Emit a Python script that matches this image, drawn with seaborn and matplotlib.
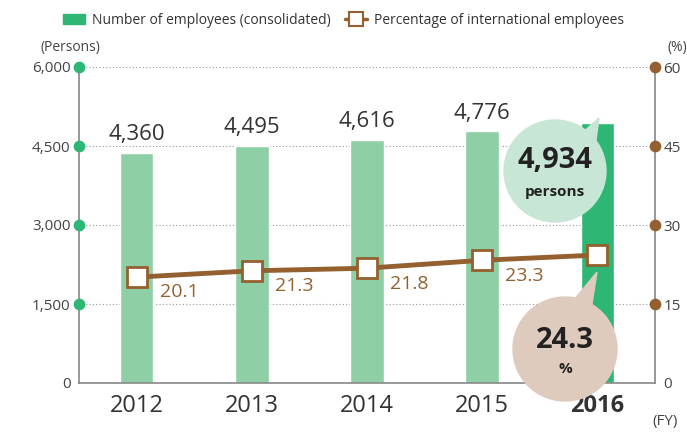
import matplotlib
matplotlib.use("Agg")
import matplotlib.pyplot as plt
import seaborn as sns
import pandas as pd
from matplotlib.patches import Circle, Polygon, Patch
from matplotlib.lines import Line2D
from matplotlib.transforms import IdentityTransform

# data
years = ["2012", "2013", "2014", "2015", "2016"]
employees = [4360, 4495, 4616, 4776, 4934]
intl_pct = [20.1, 21.3, 21.8, 23.3, 24.3]
left_ticks = [0, 1500, 3000, 4500, 6000]
right_ticks = [0, 15, 30, 45, 60]

bar_colors = ["#8ecfa6", "#8ecfa6", "#8ecfa6", "#8ecfa6", "#2db674"]
brown = "#94602f"
grey = "#888888"
txt = "#333333"

sns.set_theme(style="white")
plt.rcParams["font.family"] = ["Open Sans", "DejaVu Sans"]

fig = plt.figure(figsize=(6.87, 4.32), dpi=100)
ax = fig.add_axes([79 / 687, 49 / 432, 576 / 687, 316 / 432])

df = pd.DataFrame({"year": years, "employees": employees})
sns.barplot(data=df, x="year", y="employees", hue="year", palette=bar_colors,
            width=0.29, legend=False, ax=ax, saturation=1)
ax.set_xlim(-0.5, 4.5)
ax.set_ylim(0, 6000)
ax.set_xlabel("")
ax.set_ylabel("")
ax.set_yticks(left_ticks)
ax.set_yticklabels([f"{v:,}" for v in left_ticks], color="#444444", fontsize=11)
ax.tick_params(axis="y", length=0, pad=6)
ax.tick_params(axis="x", length=0, pad=8)
ax.set_xticks(range(len(years)))
ax.set_xticklabels(years, fontsize=17, color="#333333")
ax.get_xticklabels()[-1].set_fontweight("bold")

for s in ["left", "right", "bottom"]:
    ax.spines[s].set_color(grey)
    ax.spines[s].set_linewidth(1.2)
ax.spines["top"].set_visible(False)

# dotted grid behind bars
for t in left_ticks[1:]:
    ax.axhline(t, color="#999999", linestyle=(0, (1, 2)), linewidth=0.8, zorder=0)
ax.set_axisbelow(True)
# tick dots on left axis
ax.scatter([-0.5] * 4, left_ticks[1:], s=55, color="#2db674", clip_on=False, zorder=5)

# bar value labels
for i, v in enumerate(employees[:-1]):
    ax.text(i, v + 150, f"{v:,}", ha="center", va="bottom", fontsize=16, color=txt)

ax2 = ax.twinx()
ax2.set_ylim(0, 60)
ax2.set_yticks(right_ticks)
ax2.set_yticklabels([str(v) for v in right_ticks], color="#444444", fontsize=11)
ax2.tick_params(axis="y", length=0, pad=6)
for s in ax2.spines.values():
    s.set_visible(False)
ax2.scatter([4.5] * 4, right_ticks[1:], s=55, color=brown, clip_on=False, zorder=5)

ax2.plot(range(len(years)), intl_pct, color=brown, linewidth=3.5, marker="s",
         markersize=14, markerfacecolor="white", markeredgecolor=brown,
         markeredgewidth=2, zorder=6)
for i, v in enumerate(intl_pct[:-1]):
    ax2.text(i + 0.2, v - 1.2, f"{v}", ha="left", va="top", fontsize=14, color=brown)

# unit labels
fig.text(70 / 687, 1 - 47 / 432, "(Persons)", ha="center", va="center", fontsize=10, color="#444444")
fig.text(677 / 687, 1 - 47 / 432, "(%)", ha="center", va="center", fontsize=10, color="#444444")
fig.text(665 / 687, 1 - 422 / 432, "(FY)", ha="center", va="center", fontsize=11, color="#444444")

# callout bubbles (pixel coordinates, y up)
H = 432
idt = IdentityTransform()
fig.patches.append(Polygon([(580, H - 135), (596, H - 140), (599, H - 118)],
                           closed=True, transform=idt, color="#c8e6d5", zorder=7))
fig.patches.append(Circle((555, H - 171), 51, transform=idt, color="#c8e6d5", zorder=7))
fig.text(555 / 687, (H - 161) / H, "4,934", ha="center", va="center", fontsize=21,
         fontweight="bold", color="#222222", zorder=8)
fig.text(555 / 687, (H - 192) / H, "persons", ha="center", va="center", fontsize=11,
         fontweight="bold", color="#222222", zorder=8)

fig.patches.append(Polygon([(574, H - 300), (592, H - 304), (597, H - 272)],
                           closed=True, transform=idt, color="#dfcbbd", zorder=7))
fig.patches.append(Circle((565, H - 349), 52, transform=idt, color="#dfcbbd", zorder=7))
fig.text(565 / 687, (H - 340) / H, "24.3", ha="center", va="center", fontsize=21,
         fontweight="bold", color="#222222", zorder=8)
fig.text(565 / 687, (H - 369) / H, "%", ha="center", va="center", fontsize=11,
         fontweight="bold", color="#222222", zorder=8)

# legend
handles = [Patch(color="#2db674"),
           Line2D([0], [0], color=brown, linewidth=2.5, marker="s", markersize=10,
                  markerfacecolor="white", markeredgecolor=brown, markeredgewidth=1.5)]
fig.legend(handles, ["Number of employees (consolidated)", "Percentage of international employees"],
           loc="center", bbox_to_anchor=(0.5, 1 - 20 / 432), ncol=2, frameon=False,
           fontsize=10, handlelength=1.6, columnspacing=1.0, handletextpad=0.5,
           labelcolor="#333333")

fig.savefig("out.png", dpi=100)
